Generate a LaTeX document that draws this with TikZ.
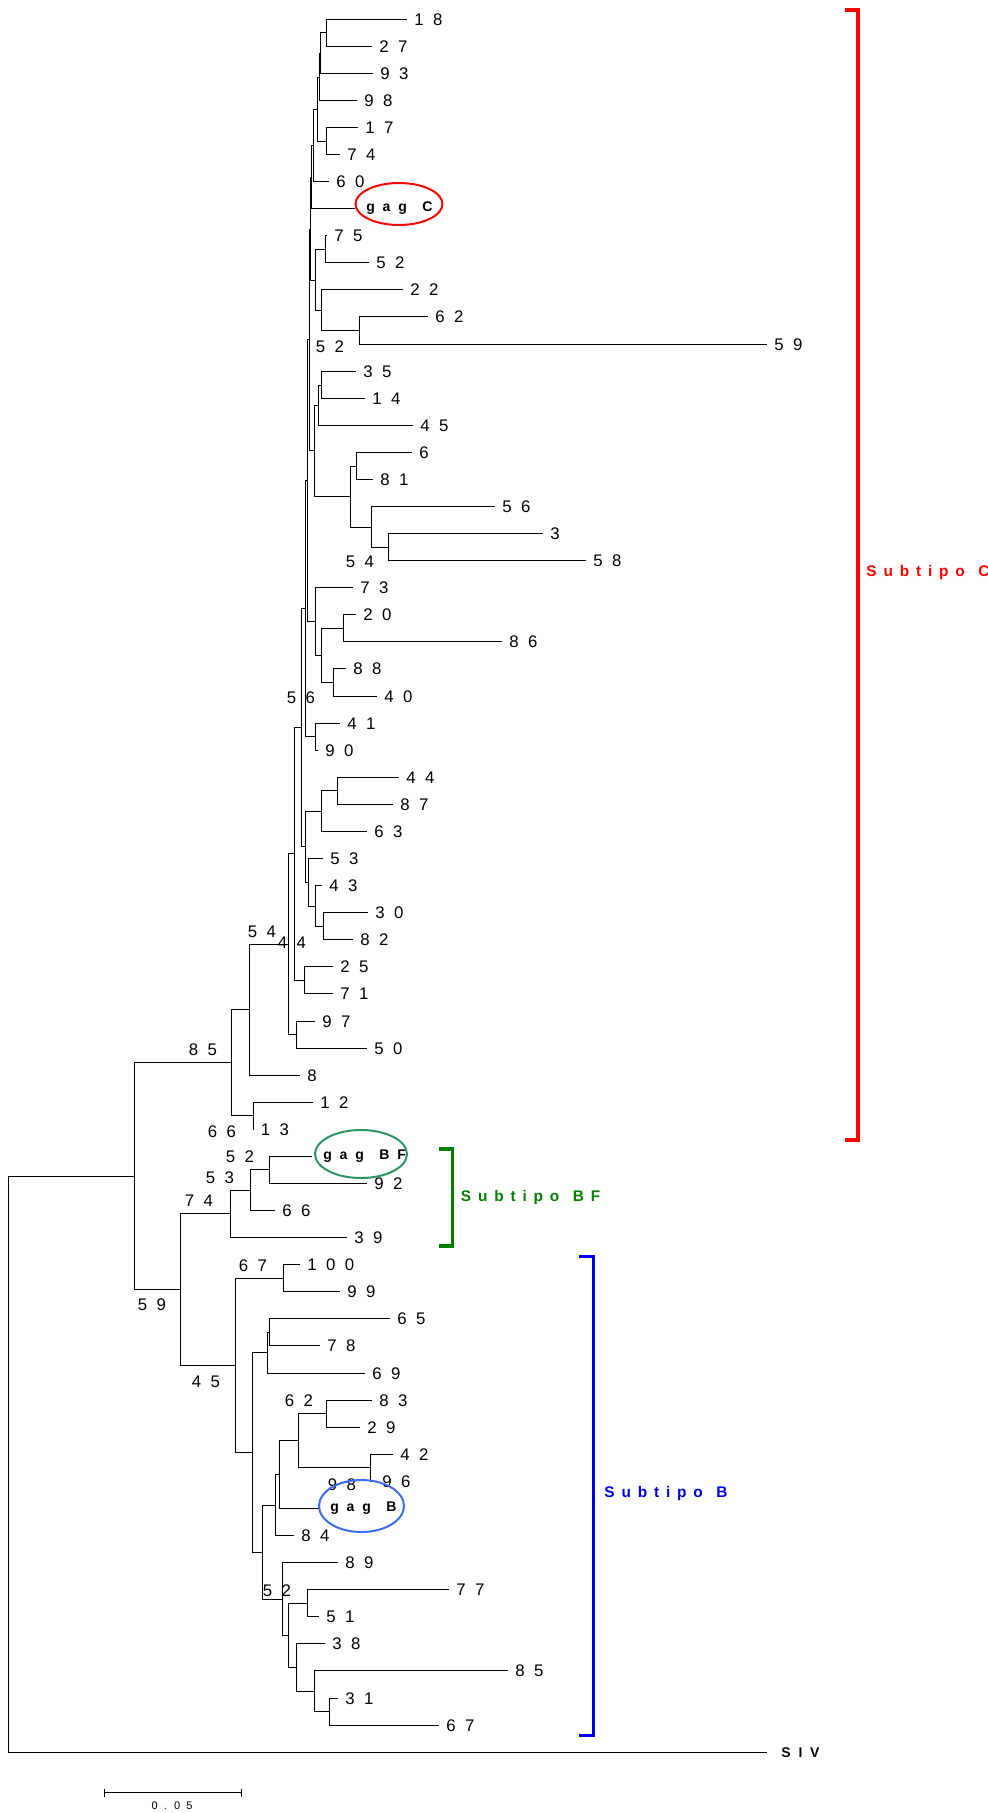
\documentclass[tikz,border=0pt]{standalone}
\usepackage{fontspec}
\setmainfont{Liberation Sans}[WordSpace=2]
\newfontfamily\subfam{Liberation Sans}[WordSpace=1.6]
\newcommand\lbl{\fontsize{8.4}{10}\selectfont}
\newcommand\glbl{\fontsize{7}{8}\selectfont\bfseries}
\newcommand\slbl{\subfam\fontsize{7.7}{9}\selectfont\bfseries}
\newcommand\sclbl{\fontsize{5.5}{6}\selectfont}
\definecolor{cred}{RGB}{255,0,0}
\definecolor{cgreen}{RGB}{0,128,0}
\definecolor{cgreenring}{RGB}{46,150,100}
\definecolor{cblue}{RGB}{0,0,230}
\definecolor{cbluering}{RGB}{60,110,245}
\newcommand\lf[4]{\coordinate (#1) at (#2,#3); \node[leaf] (l#1) at (#1) {#4};}
\newcommand\gl[4]{\coordinate (#1) at (#2,#3); \node[gag] (l#1) at (#1) {#4};}
\newcommand\nd[3]{\coordinate (#1) at (#2,#3);}
\newcommand\br[3]{\draw[branch] (#1) |- (#2) (#1) |- (#3);}
\begin{document}
\begin{tikzpicture}[x=0.5pt,y=-0.5pt,
  branch/.style={line width=0.5pt,black},
  leaf/.style={anchor=west,inner sep=0pt,xshift=3.5pt,font=\lbl},
  gag/.style={anchor=west,inner sep=0pt,xshift=5.5pt,font=\glbl},
  boot/.style={inner sep=0pt,font=\lbl},
  brk/.style={line width=1.6pt},
  ring/.style={line width=1pt},
  sub/.style={anchor=west,inner sep=0pt,font=\slbl}]
\fill[white] (0,0) rectangle (988,1813);
\useasboundingbox (0,0) rectangle (988,1813);
% leaves
\lf{t1}{407}{19.5}{1 8}
\lf{t2}{372}{46.5}{2 7}
\lf{t3}{373}{73.5}{9 3}
\lf{t4}{357}{100.5}{9 8}
\lf{t5}{358}{127.5}{1 7}
\lf{t6}{340}{154.5}{7 4}
\lf{t7}{329}{181.5}{6 0}
\gl{t8}{355}{208.5}{g a g~~C}
\lf{t9}{327}{235.5}{7 5}
\lf{t10}{369}{262.5}{5 2}
\lf{t11}{403}{289.5}{2 2}
\lf{t12}{428}{316.5}{6 2}
\lf{t13}{767}{344.5}{5 9}
\lf{t14}{356}{371.5}{3 5}
\lf{t15}{365}{398.5}{1 4}
\lf{t16}{413}{425.5}{4 5}
\lf{t17}{412}{452.5}{6}
\lf{t18}{373}{479.5}{8 1}
\lf{t19}{495}{506.5}{5 6}
\lf{t20}{543}{533.5}{3}
\lf{t21}{586}{560.5}{5 8}
\lf{t22}{353}{587.5}{7 3}
\lf{t23}{356}{614.5}{2 0}
\lf{t24}{502}{641.5}{8 6}
\lf{t25}{346}{668.5}{8 8}
\lf{t26}{377}{696.5}{4 0}
\lf{t27}{340}{723.5}{4 1}
\lf{t28}{318}{750.5}{9 0}
\lf{t29}{399}{777.5}{4 4}
\lf{t30}{393}{804.5}{8 7}
\lf{t31}{367}{831.5}{6 3}
\lf{t32}{323}{858.5}{5 3}
\lf{t33}{322}{885.5}{4 3}
\lf{t34}{368}{912.5}{3 0}
\lf{t35}{353}{939.5}{8 2}
\lf{t36}{333}{966.5}{2 5}
\lf{t37}{333}{993.5}{7 1}
\lf{t38}{315}{1021.5}{9 7}
\lf{t39}{367}{1048.5}{5 0}
\lf{t40}{300}{1075.5}{8}
\lf{t41}{313}{1102.5}{1 2}
\lf{t42}{253.5}{1129.5}{1 3}
\gl{t43}{312}{1156.5}{g a g~~B F}
\lf{t44}{367}{1183.5}{9 2}
\lf{t45}{275}{1210.5}{6 6}
\lf{t46}{347}{1237.5}{3 9}
\lf{t47}{300}{1264.5}{1 0 0}
\lf{t48}{340}{1291.5}{9 9}
\lf{t49}{390}{1318.5}{6 5}
\lf{t50}{320}{1345.5}{7 8}
\lf{t51}{365}{1373.5}{6 9}
\lf{t52}{372}{1400.5}{8 3}
\lf{t53}{360}{1427.5}{2 9}
\lf{t54}{393}{1454.5}{4 2}
\lf{t55}{375}{1481.5}{9 6}
\gl{t56}{319}{1508.5}{g a g~~B}
\lf{t57}{294}{1535.5}{8 4}
\lf{t58}{338}{1562.5}{8 9}
\lf{t59}{449}{1589.5}{7 7}
\lf{t60}{319}{1616.5}{5 1}
\lf{t61}{325}{1643.5}{3 8}
\lf{t62}{508}{1670.5}{8 5}
\lf{t63}{338}{1698.5}{3 1}
\lf{t64}{439}{1725.5}{6 7}
\coordinate (t65) at (767,1752.5);
\node[gag,xshift=1.5pt] (lt65) at (t65) {S I V};
% internal nodes
\nd{N1}{326.5}{32.5}
\nd{N2}{320.5}{53.5}
\nd{N3}{319.5}{77.5}
\nd{N4}{326.5}{141.5}
\nd{N5}{317.5}{109.5}
\nd{N6}{313.5}{145.5}
\nd{N7}{311.5}{177.5}
\nd{N8}{325.5}{249.5}
\nd{N9}{359.5}{330.5}
\nd{N10}{321.5}{310.5}
\nd{N11}{315.5}{280.5}
\nd{N12}{310.5}{229.5}
\nd{N14}{321.5}{385.5}
\nd{N15}{318.5}{405.5}
\nd{N16}{356.5}{466.5}
\nd{N17}{388.5}{547.5}
\nd{N18}{371.5}{527.5}
\nd{N19}{350.5}{496.5}
\nd{N20}{314.5}{450.5}
\nd{N21}{309.5}{339.5}
\nd{N23}{343.5}{628.5}
\nd{N24}{333.5}{682.5}
\nd{N25}{321.5}{655.5}
\nd{N26}{315.5}{621.5}
\nd{N22}{307.5}{480.5}
\nd{N28}{315.5}{736.5}
\nd{N27}{305.5}{608.5}
\nd{N30}{337.5}{790.5}
\nd{N31}{321.5}{811.5}
\nd{N32}{323.5}{926.5}
\nd{N33}{315.5}{906.5}
\nd{N34}{308.5}{882.5}
\nd{N35}{305.5}{846.5}
\nd{N29}{301.5}{727.5}
\nd{N36}{304.5}{980.5}
\nd{N37}{294.5}{853.5}
\nd{N38}{296.5}{1034.5}
\nd{N39}{288.5}{944.5}
\nd{nC}{249.5}{1009.5}
\nd{nD}{253.5}{1115.5}
\nd{nB}{231.5}{1062.5}
\nd{nI}{269.5}{1169.5}
\nd{nH}{250.5}{1190.5}
\nd{nG}{230.5}{1213.5}
\nd{nE}{283.5}{1278.5}
\nd{nK1}{269.5}{1332.5}
\nd{nK2}{267.5}{1352.5}
\nd{nO1}{326.5}{1413.5}
\nd{nO2}{370.5}{1467.5}
\nd{nO}{298.5}{1440.5}
\nd{nP}{279.5}{1474.5}
\nd{nQ}{275.5}{1505.5}
\nd{nW}{307.5}{1603.5}
\nd{nV2}{329.5}{1711.5}
\nd{nV}{314.5}{1691.5}
\nd{nU}{296.5}{1667.5}
\nd{nT}{288.5}{1635.5}
\nd{nS}{282.5}{1599.5}
\nd{nR}{262.5}{1552.5}
\nd{nL}{252.5}{1452.5}
\nd{nJ}{235.5}{1365.5}
\nd{nF}{180.5}{1289.5}
\nd{nA}{134.5}{1176.5}
\nd{nRoot}{8.5}{1464.5}
% branches
\br{N1}{t1}{t2}
\br{N2}{N1}{t3}
\br{N3}{N2}{t4}
\br{N4}{t5}{t6}
\br{N5}{N3}{N4}
\br{N6}{N5}{t7}
\br{N7}{N6}{t8}
\br{N8}{t9}{t10}
\br{N9}{t12}{t13}
\br{N10}{t11}{N9}
\br{N11}{N8}{N10}
\br{N12}{N7}{N11}
\br{N14}{t14}{t15}
\br{N15}{N14}{t16}
\br{N16}{t17}{t18}
\br{N17}{t20}{t21}
\br{N18}{t19}{N17}
\br{N19}{N16}{N18}
\br{N20}{N15}{N19}
\br{N21}{N12}{N20}
\br{N23}{t23}{t24}
\br{N24}{t25}{t26}
\br{N25}{N23}{N24}
\br{N26}{t22}{N25}
\br{N22}{N21}{N26}
\br{N28}{t27}{t28}
\br{N27}{N22}{N28}
\br{N30}{t29}{t30}
\br{N31}{N30}{t31}
\br{N32}{t34}{t35}
\br{N33}{t33}{N32}
\br{N34}{t32}{N33}
\br{N35}{N31}{N34}
\br{N29}{N27}{N35}
\br{N36}{t36}{t37}
\br{N37}{N29}{N36}
\br{N38}{t38}{t39}
\br{N39}{N37}{N38}
\br{nC}{N39}{t40}
\br{nD}{t41}{t42}
\br{nB}{nC}{nD}
\br{nI}{t43}{t44}
\br{nH}{nI}{t45}
\br{nG}{nH}{t46}
\br{nE}{t47}{t48}
\br{nK1}{t49}{t50}
\br{nK2}{nK1}{t51}
\br{nO1}{t52}{t53}
\br{nO2}{t54}{t55}
\br{nO}{nO1}{nO2}
\br{nP}{nO}{t56}
\br{nQ}{nP}{t57}
\br{nW}{t59}{t60}
\br{nV2}{t63}{t64}
\br{nV}{t62}{nV2}
\br{nU}{t61}{nV}
\br{nT}{nW}{nU}
\br{nS}{t58}{nT}
\br{nR}{nQ}{nS}
\br{nL}{nK2}{nR}
\br{nJ}{nE}{nL}
\br{nF}{nG}{nJ}
\br{nA}{nB}{nF}
\br{nRoot}{nA}{t65}
% bootstrap values
\node[boot] (b1) at (330,347) {5 2};
\node[boot] (b2) at (360,562) {5 4};
\node[boot] (b3) at (301,698) {5 6};
\node[boot] (b4) at (262,932) {5 4};
\node[boot] (b5) at (292,943) {4 4};
\node[boot] (b6) at (203,1050) {8 5};
\node[boot] (b7) at (222,1132) {6 6};
\node[boot] (b8) at (240,1157) {5 2};
\node[boot] (b9) at (220,1178) {5 3};
\node[boot] (b10) at (199,1201) {7 4};
\node[boot] (b11) at (253,1266) {6 7};
\node[boot] (b12) at (152,1305) {5 9};
\node[boot] (b13) at (206,1382) {4 5};
\node[boot] (b14) at (299,1401) {6 2};
\node[boot] (b15) at (342,1485) {9 8};
\node[boot] (b16) at (277,1591) {5 2};
% highlight rings
\draw[ring,cred] (399,204) ellipse [x radius=43.5, y radius=21];
\draw[ring,cgreenring] (361,1154) ellipse [x radius=46, y radius=24];
\draw[ring,cbluering] (361.5,1506) ellipse [x radius=42.5, y radius=26];
% brackets
\draw[brk,cred] (845,10) -- (858,10) -- (858,1140) -- (845,1140);
\node[sub,text=cred] (sC) at (866,572.7) {S u b t i p o~~C};
\draw[brk,cgreen] (438.5,1149) -- (452.4,1149) -- (452.4,1246) -- (438.5,1246);
\node[sub,text=cgreen] (sBF) at (460.5,1197.5) {S u b t i p o~~B F};
\draw[brk,cblue] (578.5,1256.5) -- (593.5,1256.5) -- (593.5,1735.5) -- (578.5,1735.5);
\node[sub,text=cblue] (sB) at (604,1493.7) {S u b t i p o~~B};
% scale bar
\coordinate (s1) at (104.5,1792.5);
\coordinate (s2) at (241.5,1792.5);
\draw[line width=0.7pt] (s1) -- (s2);
\draw[line width=0.9pt] ([yshift=-2pt]s1) -- ([yshift=2pt]s1);
\draw[line width=0.9pt] ([yshift=-2pt]s2) -- ([yshift=2pt]s2);
\node[inner sep=0pt,font=\sclbl] (sl) at (172,1805.5) {0 . 0 5};
\end{tikzpicture}
\end{document}
